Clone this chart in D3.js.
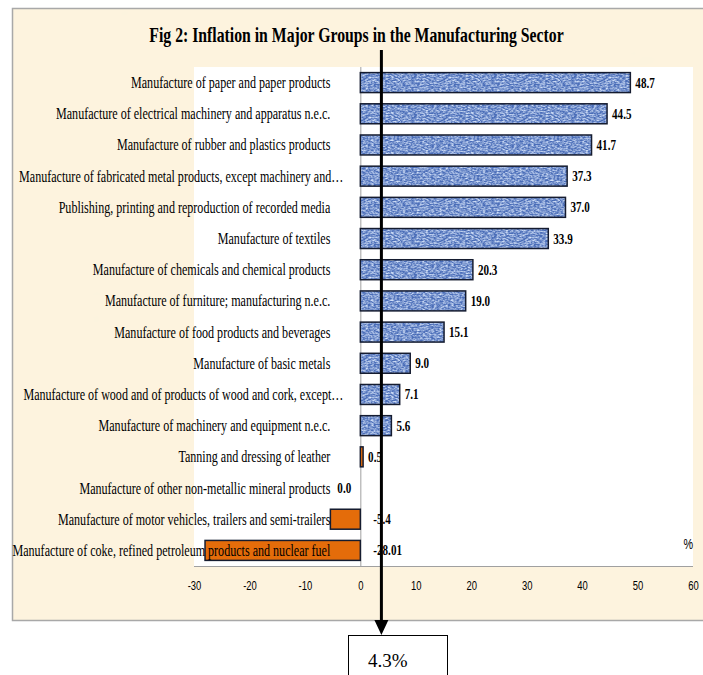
<!DOCTYPE html>
<html>
<head>
<meta charset="utf-8">
<script src="https://cdn.jsdelivr.net/npm/d3@7"></script>
<style>
  html, body { margin: 0; padding: 0; background: #fff; }
  svg { display: block; }
</style>
</head>
<body>
<div id="chart"></div>
<script>
// Fig 2: inflation by manufacturing group (horizontal bars)

const categories = [
  "Manufacture of paper and paper products",
  "Manufacture of electrical machinery and apparatus n.e.c.",
  "Manufacture of rubber and plastics products",
  "Manufacture of fabricated metal products, except machinery and…",
  "Publishing, printing and reproduction of recorded media",
  "Manufacture of textiles",
  "Manufacture of chemicals and chemical products",
  "Manufacture of furniture; manufacturing n.e.c.",
  "Manufacture of food products and beverages",
  "Manufacture of basic metals",
  "Manufacture of wood and of products of wood and cork, except…",
  "Manufacture of machinery and equipment n.e.c.",
  "Tanning and dressing of leather",
  "Manufacture of other non-metallic mineral products",
  "Manufacture of motor vehicles, trailers and semi-trailers",
  "Manufacture of coke, refined petroleum products and nuclear fuel"
];
const values = [48.7, 44.5, 41.7, 37.3, 37.0, 33.9, 20.3, 19.0, 15.1, 9.0, 7.1, 5.6, 0.5, 0.0, -5.4, -28.01];
const valueLabels = ["48.7", "44.5", "41.7", "37.3", "37.0", "33.9", "20.3", "19.0", "15.1", "9.0", "7.1", "5.6", "0.5", "0.0", "-5.4", "-28.01"];
// bars that Excel drew in orange
const orangeBars = ["Tanning and dressing of leather",
  "Manufacture of motor vehicles, trailers and semi-trailers",
  "Manufacture of coke, refined petroleum products and nuclear fuel"];
const xTicks = [-30, -20, -10, 0, 10, 20, 30, 40, 50, 60];
const titleText = "Fig 2: Inflation in Major Groups in the Manufacturing Sector";
const overallLabel = "4.3%";
const overallLineValue = 3.8; // where the arrow sits on the axis

const serif = "'Liberation Serif', 'Times New Roman', serif";
const sans = "'Liberation Sans', Arial, sans-serif";

const width = 703, height = 675;
const plot = { left: 194, right: 693, top: 67, bottom: 566 };

const svg = d3.select("#chart").append("svg")
  .attr("width", width)
  .attr("height", height);

const defs = svg.append("defs");

// parchment texture
const paperFilter = defs.append("filter").attr("id", "paperNoise")
  .attr("x", 0).attr("y", 0).attr("width", "100%").attr("height", "100%");
paperFilter.append("feTurbulence")
  .attr("type", "fractalNoise").attr("baseFrequency", "0.015 0.04")
  .attr("numOctaves", 3).attr("seed", 4).attr("result", "n");
paperFilter.append("feColorMatrix").attr("in", "n").attr("type", "matrix")
  .attr("values", "0 0 0 0 0.96  0 0 0 0 0.89  0 0 0 0 0.74  0 0 0 0.55 -0.25");

// blue bar texture
const blueFilter = defs.append("filter").attr("id", "blueNoise")
  .attr("x", 0).attr("y", 0).attr("width", "100%").attr("height", "100%");
blueFilter.append("feTurbulence")
  .attr("type", "fractalNoise").attr("baseFrequency", "0.35 0.7")
  .attr("numOctaves", 2).attr("seed", 7).attr("result", "n");
blueFilter.append("feColorMatrix").attr("in", "n").attr("type", "matrix")
  .attr("values", "0 0 0 0 0.70  0 0 0 0 0.80  0 0 0 0 0.97  0 0 0 1.9 -0.6");

const bluePat = defs.append("pattern").attr("id", "bluePat")
  .attr("patternUnits", "userSpaceOnUse").attr("width", 80).attr("height", 40);
bluePat.append("rect").attr("width", 80).attr("height", 40).attr("fill", "#4a6db8");
bluePat.append("rect").attr("width", 80).attr("height", 40).attr("filter", "url(#blueNoise)");

// background panel
svg.append("rect")
  .attr("x", 12).attr("y", 8)
  .attr("width", width).attr("height", 613)
  .attr("fill", "#fdf3de");
svg.append("rect")
  .attr("x", 12).attr("y", 8)
  .attr("width", width).attr("height", 613)
  .attr("filter", "url(#paperNoise)");
svg.append("path")
  .attr("d", `M${width},8.5H12.5V620.5H${width}`)
  .attr("fill", "none").attr("stroke", "#a8a8a8").attr("stroke-width", 1.5);

// plot area
svg.append("rect")
  .attr("x", plot.left).attr("y", plot.top)
  .attr("width", plot.right - plot.left).attr("height", plot.bottom - plot.top)
  .attr("fill", "#fff");
svg.append("line")
  .attr("x1", plot.left).attr("x2", plot.right)
  .attr("y1", plot.bottom + 0.5).attr("y2", plot.bottom + 0.5)
  .attr("stroke", "#a0a0a0");

const x = d3.scaleLinear().domain([-30, 60]).range([plot.left, plot.right]);
const y = d3.scaleBand().domain(categories).range([plot.top, plot.bottom]).paddingInner(0.36).paddingOuter(0.18);

// zero line
svg.append("line")
  .attr("x1", x(0) + 0.5).attr("x2", x(0) + 0.5)
  .attr("y1", plot.top).attr("y2", plot.bottom)
  .attr("stroke", "#a0a0a0");

// x axis (labels only)
const xAxis = d3.axisBottom(x).tickValues(xTicks).tickSize(0).tickPadding(0)
  .tickFormat((d) => String(d));
const xg = svg.append("g")
  .attr("transform", `translate(0,${plot.bottom + 24})`)
  .call(xAxis);
xg.select(".domain").remove();
xg.selectAll("text")
  .attr("y", 0).attr("dy", 0)
  .attr("transform", "scale(0.7,1)")
  .attr("font-family", sans)
  .attr("font-size", 13.5).attr("fill", "#000");

svg.append("text")
  .attr("transform", `translate(${plot.right},${plot.bottom - 17}) scale(0.72,1)`)
  .attr("text-anchor", "end")
  .attr("font-family", sans)
  .attr("font-size", 15)
  .text("%");

// bars
svg.append("g").selectAll("rect")
  .data(categories)
  .join("rect")
  .attr("x", (d, i) => x(Math.min(0, values[i])))
  .attr("y", (d) => y(d))
  .attr("width", (d, i) => Math.abs(x(values[i]) - x(0)))
  .attr("height", y.bandwidth())
  .attr("fill", (d) => (orangeBars.includes(d) ? "#e46c0a" : "url(#bluePat)"))
  .attr("stroke", (d, i) => (values[i] === 0 ? "none" : "#151c30"))
  .attr("stroke-width", 1.5);

// category labels
const labelX = x(0) - 30;
svg.append("g").selectAll("text")
  .data(categories)
  .join("text")
  .attr("transform", (d) => {
    const ax = d.endsWith("…") ? labelX + 13 : labelX;
    return `translate(${ax},${y(d) + y.bandwidth() / 2 + 5.5}) scale(0.755,1)`;
  })
  .attr("text-anchor", "end")
  .attr("font-family", serif)
  .attr("font-size", 16)
  .attr("fill", "#000")
  .text((d) => d);

// value labels
svg.append("g").selectAll("text")
  .data(categories)
  .join("text")
  .attr("transform", (d, i) => {
    const v = values[i];
    let lx;
    if (v > 0) lx = x(v) + 5;
    else if (v === 0) lx = x(0) - 23;
    else lx = x(0) + 13;
    return `translate(${lx},${y(d) + y.bandwidth() / 2 + 5}) scale(0.74,1)`;
  })
  .attr("font-family", serif)
  .attr("font-weight", "bold")
  .attr("font-size", 15)
  .attr("fill", "#000")
  .text((d, i) => valueLabels[i]);

// title
svg.append("text")
  .attr("transform", `translate(${(plot.left + plot.right) / 2 - 87},42) scale(0.75,1)`)
  .attr("text-anchor", "middle")
  .attr("font-family", serif)
  .attr("font-weight", "bold")
  .attr("font-size", 21)
  .text(titleText);

// overall inflation arrow and box
const ax = x(overallLineValue);
svg.append("line")
  .attr("x1", ax).attr("x2", ax)
  .attr("y1", 50).attr("y2", 622)
  .attr("stroke", "#000").attr("stroke-width", 3);
svg.append("path")
  .attr("d", `M${ax - 7},620L${ax + 7},620L${ax},635Z`)
  .attr("fill", "#000");
svg.append("rect")
  .attr("x", 348.5).attr("y", 635.5)
  .attr("width", 99).attr("height", 60)
  .attr("fill", "#fff").attr("stroke", "#000");
svg.append("text")
  .attr("x", 368).attr("y", 667)
  .attr("font-family", serif)
  .attr("font-size", 19)
  .text(overallLabel);
</script>
</body>
</html>
